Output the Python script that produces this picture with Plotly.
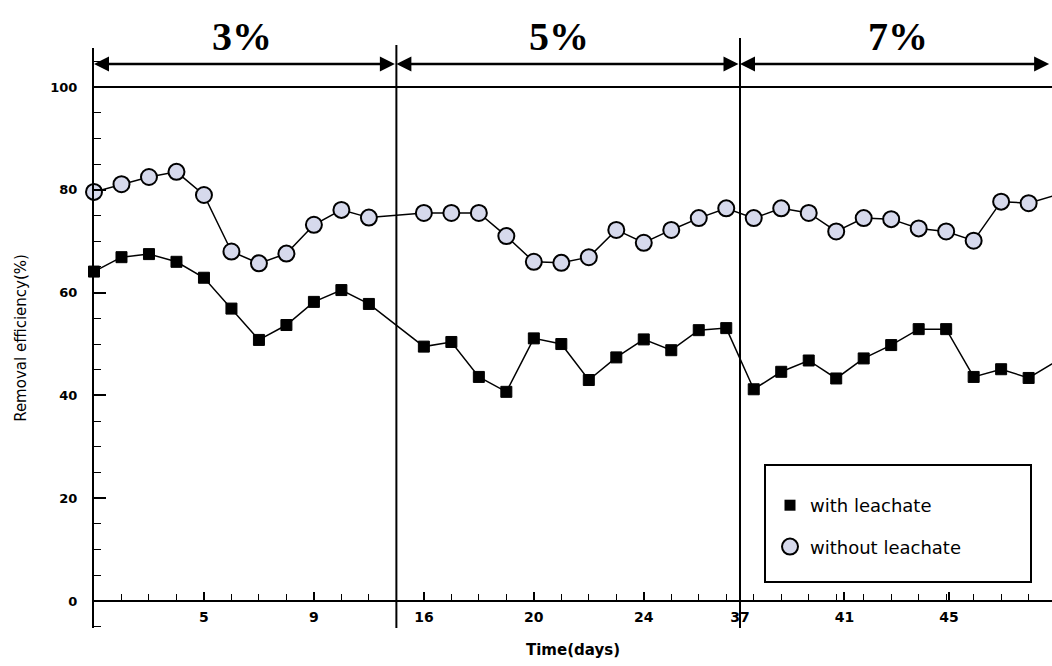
import plotly.graph_objects as go

# ---------------- data ----------------
# sample positions along the time axis (one per measurement, gap between 3% and 5% stages)
sample_pos = [0, 1, 2, 3, 4, 5, 6, 7, 8, 9, 10,
              12, 13, 14, 15, 16, 17, 18, 19, 20, 21, 22, 23,
              24, 25, 26, 27, 28, 29, 30, 31, 32, 33, 34, 35]

with_leachate = [64.1, 66.9, 67.5, 66.0, 62.9, 56.9, 50.8, 53.7, 58.2, 60.5, 57.8,
                 49.5, 50.4, 43.6, 40.7, 51.1, 50.0, 43.0, 47.4, 50.9, 48.8, 52.7, 53.1,
                 41.2, 44.6, 46.8, 43.3, 47.2, 49.8, 52.9, 52.9, 43.6, 45.1, 43.4, 46.6]

without_leachate = [79.6, 81.1, 82.5, 83.5, 79.0, 68.0, 65.7, 67.6, 73.2, 76.1, 74.6,
                    75.5, 75.5, 75.5, 71.0, 66.0, 65.8, 66.9, 72.2, 69.7, 72.2, 74.5, 76.4,
                    74.5, 76.4, 75.5, 71.9, 74.5, 74.3, 72.5, 71.9, 70.1, 77.7, 77.4, 79.0]

tick_pos = [4, 8, 12, 16, 20, 23.5, 27.3, 31.1]
tick_text = ["5", "9", "16", "20", "24", "37", "41", "45"]

stage_labels = ["3%", "5%", "7%"]
stage_bounds = [0, 11, 23.5, 34.8]
stage_label_pos = [5.4, 16.9, 29.25]

# ---------------- layout constants ----------------
W, H = 1052, 666
L, R, T, B = 94, 0, 48, 38
X0, X1 = 0.0, 34.85
Y0, Y1 = -5.25, 107.6
plot_h = H - T - B


def py2paper(py):
    return (H - B - py) / plot_h


def px2paper(px):
    return (px - L) / (W - L - R)


CIRCLE_FILL = "#d6d9ec"

fig = go.Figure()

fig.add_trace(go.Scatter(
    x=sample_pos, y=without_leachate, mode="lines+markers",
    line=dict(color="black", width=1.5),
    marker=dict(symbol="circle", size=16, color=CIRCLE_FILL,
                line=dict(color="black", width=2)),
    cliponaxis=False, showlegend=False))

fig.add_trace(go.Scatter(
    x=sample_pos, y=with_leachate, mode="lines+markers",
    line=dict(color="black", width=1.5),
    marker=dict(symbol="square", size=11, color="black",
                line=dict(color="black", width=1)),
    cliponaxis=False, showlegend=False))

# legend-only entries (marker only)
fig.add_trace(go.Scatter(
    x=[None], y=[None], mode="markers", name="with leachate", legendgroup="a",
    marker=dict(symbol="square", size=11, color="black")))
fig.add_trace(go.Scatter(
    x=[None], y=[None], mode="markers", name="without leachate", legendgroup="b",
    marker=dict(symbol="circle", size=16, color=CIRCLE_FILL,
                line=dict(color="black", width=2))))

shapes = []
# horizontal reference line at 100 %
shapes.append(dict(type="line", xref="paper", yref="y", x0=0, x1=1, y0=100, y1=100,
                   line=dict(color="black", width=2)))
# stage separators
shapes.append(dict(type="line", xref="x", yref="paper", x0=stage_bounds[1], x1=stage_bounds[1],
                   y0=0, y1=py2paper(45), line=dict(color="black", width=2)))
shapes.append(dict(type="line", xref="x", yref="paper", x0=stage_bounds[2], x1=stage_bounds[2],
                   y0=0, y1=py2paper(38), line=dict(color="black", width=2)))
# legend frame
shapes.append(dict(type="rect", xref="paper", yref="paper",
                   x0=px2paper(765), x1=px2paper(1031), y0=py2paper(582), y1=py2paper(465),
                   line=dict(color="black", width=2), fillcolor="white", layer="above"))

annotations = []
for i in range(3):
    a, b = stage_bounds[i], stage_bounds[i + 1]
    annotations.append(dict(
        x=a, y=104.5, ax=b, ay=104.5, xref="x", yref="y", axref="x", ayref="y",
        text="", showarrow=True, arrowhead=2, arrowside="end+start",
        arrowsize=1.2, arrowwidth=2.5, arrowcolor="black", standoff=0, startstandoff=0))
    annotations.append(dict(
        x=stage_label_pos[i], y=py2paper(37), xref="x", yref="paper",
        text="<b>%s</b>" % stage_labels[i], showarrow=False,
        font=dict(family="Liberation Serif", size=40, color="black"),
        xanchor="center", yanchor="middle"))

fig.update_layout(
    width=W, height=H,
    margin=dict(l=L, r=R, t=T, b=B, pad=0, autoexpand=False),
    paper_bgcolor="white", plot_bgcolor="white",
    shapes=shapes, annotations=annotations,
    showlegend=True,
    legend=dict(x=px2paper(770), y=py2paper(487), xanchor="left", yanchor="top",
                bgcolor="rgba(0,0,0,0)", borderwidth=0,
                font=dict(family="DejaVu Sans", size=18, color="black"),
                traceorder="grouped", tracegroupgap=15, itemwidth=30),
    xaxis=dict(
        range=[X0, X1], anchor="free", position=(0 - Y0) / (Y1 - Y0),
        automargin=False,
        showline=True, linecolor="black", linewidth=2,
        showgrid=False, zeroline=False,
        tickmode="array", tickvals=tick_pos, ticktext=tick_text,
        ticks="inside", ticklen=8, tickwidth=1.5, tickcolor="black",
        minor=dict(tickmode="linear", tick0=0, dtick=1, ticks="inside",
                   ticklen=6, tickwidth=1.2, tickcolor="black", showgrid=False),
        ticklabelstandoff=3,
        tickfont=dict(family="DejaVu Sans", size=14, color="black", weight="bold"),
        title=dict(text="Time(days)", standoff=20,
                   font=dict(family="DejaVu Sans", size=15, color="black", weight="bold")),
    ),
    yaxis=dict(
        range=[Y0, Y1], automargin=False,
        showline=True, linecolor="black", linewidth=2,
        showgrid=False, zeroline=False,
        tickmode="linear", tick0=0, dtick=20,
        ticks="inside", ticklen=12, tickwidth=1.5, tickcolor="black",
        minor=dict(tickmode="linear", tick0=0, dtick=5, ticks="inside",
                   ticklen=7, tickwidth=1.2, tickcolor="black", showgrid=False),
        ticklabelstandoff=12,
        tickfont=dict(family="DejaVu Sans", size=13, color="black", weight="bold"),
        title=dict(text="Removal efficiency(%)", standoff=20,
                   font=dict(family="DejaVu Sans", size=15, color="black")),
    ),
)

fig.write_html(
    "out.html",
    config={"displayModeBar": False},
    post_script="document.body.style.margin='0';document.body.style.overflow='hidden';",
)
